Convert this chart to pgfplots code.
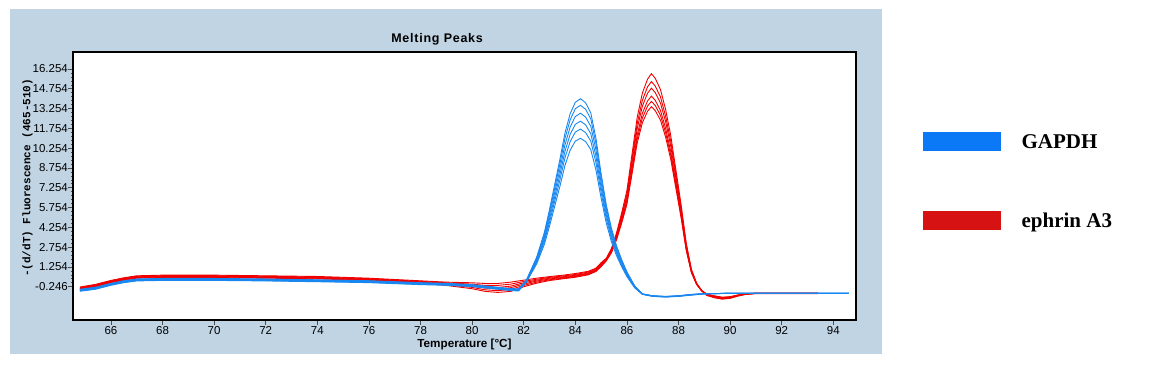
\documentclass[border=0pt]{standalone}
\usepackage{fontspec}
\setmainfont{Liberation Sans}
\newfontfamily\labmono{Liberation Mono}
\newfontfamily\legserif{Liberation Serif}
\usepackage{pgfplots}
\pgfplotsset{compat=1.18}
\usepackage{pgfplotstable}

\definecolor{panelbg}{RGB}{193,212,228}
\definecolor{curveblue}{RGB}{25,135,240}
\definecolor{curvered}{RGB}{240,0,0}
\definecolor{legblue}{RGB}{11,120,245}
\definecolor{legred}{RGB}{214,18,18}

% GAPDH melting curves (6 wells)
\pgfplotstableread{
T b1 b2 b3 b4 b5 b6
64.8 -0.44 -0.47 -0.50 -0.53 -0.56 -0.59
65.4 -0.29 -0.32 -0.35 -0.38 -0.41 -0.44
66.0 0.01 -0.02 -0.05 -0.08 -0.11 -0.14
66.5 0.21 0.18 0.15 0.12 0.09 0.06
67.0 0.34 0.31 0.28 0.25 0.22 0.19
68.0 0.38 0.35 0.32 0.29 0.26 0.23
70.0 0.38 0.35 0.32 0.29 0.26 0.23
72.0 0.34 0.31 0.28 0.25 0.22 0.19
74.0 0.28 0.25 0.22 0.19 0.16 0.13
76.0 0.21 0.18 0.15 0.12 0.09 0.06
78.0 0.06 0.03 0.00 -0.03 -0.06 -0.09
79.0 0.01 -0.02 -0.05 -0.08 -0.11 -0.14
80.0 -0.09 -0.12 -0.15 -0.18 -0.21 -0.24
80.5 -0.19 -0.22 -0.25 -0.28 -0.31 -0.34
81.0 -0.29 -0.32 -0.35 -0.38 -0.41 -0.44
81.5 -0.39 -0.42 -0.45 -0.48 -0.51 -0.54
81.8 -0.42 -0.45 -0.48 -0.51 -0.54 -0.57
82.1 0.24 0.21 0.18 0.15 0.12 0.09
82.5 1.98 1.89 1.79 1.69 1.59 1.47
82.8 3.86 3.71 3.53 3.35 3.17 2.96
83.0 5.60 5.39 5.14 4.89 4.64 4.34
83.2 7.49 7.21 6.88 6.55 6.22 5.84
83.4 9.38 9.04 8.63 8.22 7.81 7.34
83.6 11.41 11.00 10.51 10.02 9.53 8.95
83.8 12.86 12.40 11.85 11.30 10.75 10.10
84.0 13.73 13.24 12.65 12.06 11.47 10.79
84.2 14.00 13.50 12.90 12.30 11.70 11.00
84.4 13.69 13.20 12.61 12.02 11.43 10.75
84.6 12.93 12.47 11.91 11.35 10.79 10.14
84.8 11.00 10.60 10.12 9.64 9.16 8.60
85.0 8.33 8.02 7.65 7.28 6.91 6.47
85.2 5.96 5.73 5.46 5.18 4.90 4.58
85.4 4.18 4.01 3.80 3.60 3.40 3.16
85.6 2.84 2.71 2.56 2.41 2.26 2.09
85.8 1.79 1.70 1.59 1.48 1.37 1.25
86.0 0.88 0.82 0.75 0.68 0.61 0.52
86.3 -0.18 -0.20 -0.23 -0.26 -0.29 -0.33
86.6 -0.79 -0.80 -0.80 -0.81 -0.82 -0.82
87.0 -0.93 -0.94 -0.95 -0.96 -0.97 -0.98
87.5 -0.98 -0.99 -1.00 -1.01 -1.02 -1.03
88.0 -0.93 -0.94 -0.95 -0.96 -0.97 -0.98
88.5 -0.83 -0.84 -0.85 -0.86 -0.87 -0.88
89.0 -0.77 -0.77 -0.78 -0.78 -0.79 -0.79
90.0 -0.75 -0.75 -0.75 -0.75 -0.75 -0.75
92.0 -0.75 -0.75 -0.75 -0.75 -0.75 -0.75
94.6 -0.75 -0.75 -0.75 -0.75 -0.75 -0.75
}\gapdh

% ephrin A3 melting curves (6 wells)
\pgfplotstableread{
T r1 r2 r3 r4 r5 r6
64.8 -0.27 -0.31 -0.35 -0.38 -0.41 -0.45
65.4 -0.07 -0.11 -0.15 -0.18 -0.21 -0.25
66.0 0.23 0.19 0.15 0.12 0.09 0.05
66.5 0.43 0.39 0.35 0.32 0.29 0.25
67.0 0.58 0.54 0.50 0.47 0.44 0.40
68.0 0.63 0.59 0.55 0.52 0.49 0.45
70.0 0.63 0.59 0.55 0.52 0.49 0.45
72.0 0.58 0.54 0.50 0.47 0.44 0.40
74.0 0.53 0.49 0.45 0.42 0.39 0.35
76.0 0.40 0.36 0.32 0.29 0.26 0.22
78.0 0.20 0.16 0.12 0.09 0.06 0.02
79.0 0.10 0.05 0.00 -0.05 -0.10 -0.15
80.0 0.05 -0.05 -0.12 -0.20 -0.30 -0.40
80.5 0.00 -0.15 -0.25 -0.35 -0.48 -0.60
81.0 0.00 -0.15 -0.30 -0.42 -0.55 -0.68
81.5 0.10 -0.05 -0.20 -0.32 -0.45 -0.60
82.0 0.25 0.15 0.05 -0.05 -0.15 -0.25
82.5 0.40 0.32 0.25 0.18 0.10 0.02
83.0 0.52 0.46 0.40 0.34 0.28 0.22
83.5 0.62 0.56 0.50 0.45 0.40 0.35
84.0 0.75 0.68 0.62 0.57 0.52 0.47
84.5 0.92 0.86 0.80 0.75 0.70 0.65
84.8 1.16 1.10 1.04 0.99 0.95 0.91
85.0 1.57 1.50 1.43 1.37 1.32 1.27
85.2 1.91 1.86 1.82 1.77 1.74 1.71
85.4 2.64 2.56 2.50 2.42 2.37 2.32
85.6 3.85 3.72 3.62 3.49 3.41 3.32
85.8 5.37 5.18 5.03 4.84 4.72 4.59
86.0 7.04 6.79 6.58 6.33 6.16 5.99
86.2 9.82 9.46 9.16 8.80 8.56 8.32
86.4 12.60 12.13 11.74 11.27 10.96 10.65
86.6 14.43 13.89 13.44 12.90 12.54 12.18
86.8 15.48 14.90 14.41 13.83 13.44 13.05
86.95 15.90 15.30 14.80 14.20 13.80 13.40
87.1 15.54 14.95 14.46 13.87 13.48 13.09
87.3 14.70 14.14 13.68 13.12 12.75 12.38
87.5 13.19 12.68 12.26 11.76 11.42 11.09
87.7 11.20 10.77 10.41 9.98 9.69 9.40
87.9 8.59 8.26 7.98 7.64 7.42 7.19
88.1 5.98 5.74 5.54 5.30 5.14 4.98
88.3 3.05 2.92 2.81 2.68 2.59 2.50
88.5 1.07 1.01 0.96 0.90 0.86 0.82
88.7 0.03 0.00 -0.02 -0.04 -0.06 -0.07
88.9 -0.54 -0.55 -0.55 -0.56 -0.56 -0.57
89.1 -0.80 -0.83 -0.85 -0.87 -0.89 -0.91
89.4 -0.94 -0.97 -1.00 -1.03 -1.06 -1.09
89.7 -1.04 -1.07 -1.10 -1.13 -1.16 -1.19
90.0 -1.00 -1.03 -1.05 -1.08 -1.10 -1.13
90.3 -0.87 -0.89 -0.90 -0.92 -0.94 -0.96
90.6 -0.79 -0.80 -0.80 -0.81 -0.82 -0.83
91.0 -0.73 -0.74 -0.75 -0.75 -0.76 -0.77
92.0 -0.73 -0.74 -0.75 -0.75 -0.76 -0.77
93.4 -0.73 -0.74 -0.75 -0.75 -0.76 -0.77
}\ephrin

\begin{document}
\begin{tikzpicture}
\useasboundingbox (0,0) rectangle (1160pt,365pt);
\fill[panelbg] (10pt,11pt) rectangle (882pt,356pt);
\begin{axis}[
    at={(73pt,45pt)}, anchor=south west,
    scale only axis, width=783pt, height=268pt,
    xmin=64.53, xmax=94.88, ymin=-2.77, ymax=17.54,
    axis background/.style={fill=white},
    axis line style={line width=1.1pt},
    tick align=outside, xtick pos=lower, ytick pos=left,
    major tick length=4.5pt, minor tick length=2.5pt,
    tick style={gray!60!black, line width=0.6pt},
    xtick={66,68,...,94},
    ytick={-0.246,1.254,2.754,4.254,5.754,7.254,8.754,10.254,11.754,13.254,14.754,16.254},
    yticklabels={-0.246,1.254,2.754,4.254,5.754,7.254,8.754,10.254,11.754,13.254,14.754,16.254},
    minor y tick num=4,
    /pgf/number format/assume math mode=true,
    tick label style={font=\fontsize{11.5}{12}\selectfont},
    xticklabel style={inner ysep=1.5pt},
    yticklabel style={inner xsep=0.5pt},
    title={Melting Peaks},
    title style={at={(axis description cs:0.465,1)}, anchor=base, yshift=3.5pt,
        font=\bfseries\fontsize{12.5}{13}\selectfont\addfontfeature{LetterSpace=6}},
    xlabel={Temperature [°C]},
    xlabel style={at={(axis description cs:0.5,0)}, anchor=base, yshift=-27pt,
        font=\bfseries\fontsize{11.7}{12}\selectfont},
    ylabel={-(d/dT) Fluorescence (465-510)},
    ylabel style={at={(axis description cs:-0.0581,0.53)}, anchor=center,
        font=\labmono\bfseries\fontsize{11}{11}\selectfont},
    legend style={at={(axis description cs:1.0856,0.7015)}, anchor=north west,
        draw=none, fill=none, inner sep=0pt, row sep=60pt,
        nodes={inner sep=0pt},
        /tikz/every odd column/.append style={column sep=21pt},
        font=\legserif\bfseries\fontsize{21}{21}\selectfont},
    legend cell align=left,
]
\pgfplotsinvokeforeach{1,...,6}{
  \addplot[curvered, line width=0.9pt, forget plot] table[x=T, y=r#1] {\ephrin};
}
\pgfplotsinvokeforeach{1,...,6}{
  \addplot[curveblue, line width=0.9pt, forget plot] table[x=T, y=b#1] {\gapdh};
}
\addlegendimage{legend image code/.code={\fill[legblue] (0pt,-8pt) rectangle (77pt,10pt);}}
\addlegendentry{GAPDH}
\addlegendimage{legend image code/.code={\fill[legred] (0pt,-8pt) rectangle (77pt,10pt);}}
\addlegendentry{ephrin A3}
\end{axis}
\end{tikzpicture}
\end{document}
